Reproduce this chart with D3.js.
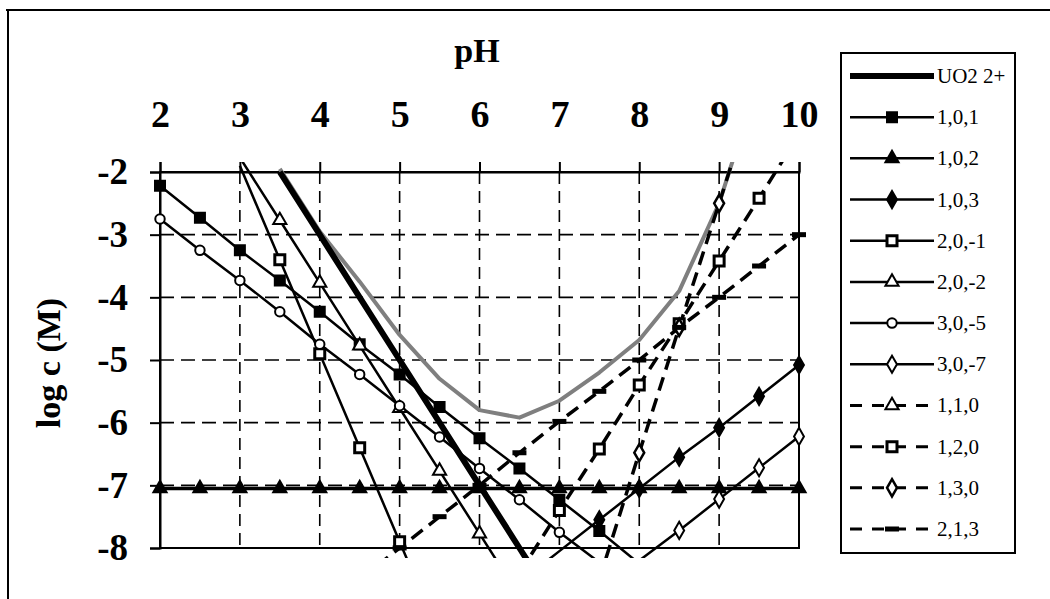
<!DOCTYPE html>
<html>
<head>
<meta charset="utf-8">
<script src="https://cdn.jsdelivr.net/npm/d3@7"></script>
<style>
  html, body { margin: 0; padding: 0; background: #fff; }
  svg text { font-family: "Liberation Serif", "Times New Roman", serif; }
</style>
</head>
<body>
<div id="chart"></div>
<script>
// pH grid (every 0.5)
const pH = [2, 2.5, 3, 3.5, 4, 4.5, 5, 5.5, 6, 6.5, 7, 7.5, 8, 8.5, 9, 9.5, 10];

// log c (M) per species, null = not plotted
const total = [null, null, null, -1.95, -2.95, -3.75, -4.6, -5.3, -5.8, -5.92, -5.65, -5.2, -4.68, -3.9, -2.5, -0.5, null];
const uo2 = [null, null, null, -2, -3, -4, -5, -6, -7, -8, -9, null, null, null, null, null, null];
const s101 = [-2.22, -2.73, -3.25, -3.73, -4.23, -4.75, -5.23, -5.75, -6.25, -6.73, -7.23, -7.73, -8.25, null, null, null, null];
const s102 = [-7.05, -7.05, -7.05, -7.05, -7.05, -7.05, -7.05, -7.05, -7.05, -7.05, -7.05, -7.05, -7.05, -7.05, -7.05, -7.05, -7.05];
const s103 = [null, null, null, null, null, null, null, null, null, -8.55, -8.05, -7.55, -7.05, -6.55, -6.08, -5.58, -5.08];
const s20m1 = [null, null, -1.9, -3.4, -4.9, -6.4, -7.9, -9.4, null, null, null, null, null, null, null, null, null];
const s20m2 = [null, null, -1.77, -2.77, -3.77, -4.77, -5.77, -6.77, -7.77, -8.77, null, null, null, null, null, null, null];
const s30m5 = [-2.75, -3.25, -3.73, -4.23, -4.75, -5.23, -5.73, -6.23, -6.73, -7.23, -7.75, -8.23, null, null, null, null, null];
const s30m7 = [null, null, null, null, null, null, null, null, null, null, null, null, -8.2, -7.72, -7.22, -6.72, -6.22];
const s110 = [null, null, null, null, null, null, null, null, null, null, null, null, null, null, null, null, null];
const s120 = [null, null, null, null, null, null, null, null, null, -8.4, -7.4, -6.42, -5.4, -4.42, -3.42, -2.42, -1.4];
const s130 = [null, null, null, null, null, null, null, null, null, null, null, -8.5, -6.48, -4.48, -2.5, -0.5, null];
const s213 = [null, null, null, null, null, -8.5, -8.0, -7.5, -7.0, -6.48, -5.98, -5.5, -5.0, -4.48, -4.0, -3.5, -3.0];

const xTicks = [2, 3, 4, 5, 6, 7, 8, 9, 10];
const yTicks = [-2, -3, -4, -5, -6, -7, -8];

const W = 1050, H = 599;
const margin = { top: 172, left: 160, right: 251, bottom: 51 };
const width = W - margin.left - margin.right;   // 639
const height = H - margin.top - margin.bottom;  // 376
const serif = "Liberation Serif";

const series = [
    { name: "UO2 2+", values: uo2, dash: null, width: 6, marker: null },
    { name: "1,0,1", values: s101, dash: null, width: 2.5, marker: "square", fill: "#000" },
    { name: "1,0,2", values: s102, dash: null, width: 3.5, marker: "triangle", fill: "#000" },
    { name: "1,0,3", values: s103, dash: null, width: 2.5, marker: "diamond", fill: "#000" },
    { name: "2,0,-1", values: s20m1, dash: null, width: 2.5, marker: "square", fill: "#fff", mstroke: 3 },
    { name: "2,0,-2", values: s20m2, dash: null, width: 2.5, marker: "triangle", fill: "#fff" },
    { name: "3,0,-5", values: s30m5, dash: null, width: 2.5, marker: "circle", fill: "#fff" },
    { name: "3,0,-7", values: s30m7, dash: null, width: 2.5, marker: "diamond", fill: "#fff" },
    { name: "1,1,0", values: s110, dash: "14,8", width: 3.5, marker: "triangle", fill: "#fff" },
    { name: "1,2,0", values: s120, dash: "14,8", width: 3.5, marker: "square", fill: "#fff", mstroke: 3 },
    { name: "1,3,0", values: s130, dash: "14,8", width: 3.5, marker: "diamond", fill: "#fff", mstroke: 2.5 },
    { name: "2,1,3", values: s213, dash: "14,8", width: 3.5, marker: "dash", fill: "#000" }
];

const symbolTypes = {
    square: [d3.symbolSquare, 100],
    triangle: [d3.symbolTriangle, 75],
    diamond: [d3.symbolDiamond, 85],
    circle: [d3.symbolCircle, 70]
};

const x = d3.scaleLinear().domain([2, 10]).range([0, width]);
const y = d3.scaleLinear().domain([-2, -8]).range([0, height]);

const root = d3.select("#chart")
    .append("svg")
    .attr("width", W)
    .attr("height", H);

root.append("rect").attr("width", W).attr("height", H).attr("fill", "#fff");

// outer frame (top + left)
root.append("line").attr("x1", 6).attr("x2", W).attr("y1", 10).attr("y2", 10)
    .attr("stroke", "#000").attr("stroke-width", 2);
root.append("line").attr("x1", 8).attr("x2", 8).attr("y1", 10).attr("y2", H)
    .attr("stroke", "#000").attr("stroke-width", 2);

const svg = root.append("g")
    .attr("transform", `translate(${margin.left},${margin.top})`);

// clip (lines run a bit past the plot area, like the scan)
svg.append("clipPath").attr("id", "clip")
    .append("rect")
    .attr("x", -10).attr("y", -10)
    .attr("width", width + 20).attr("height", height + 20);

// dashed grid
svg.append("g")
    .selectAll("line")
    .data(xTicks.slice(1, -1))
    .join("line")
    .attr("x1", d => x(d)).attr("x2", d => x(d))
    .attr("y1", 0).attr("y2", height)
    .attr("stroke", "#000").attr("stroke-width", 1.6)
    .attr("stroke-dasharray", "12,7");

svg.append("g")
    .selectAll("line")
    .data(yTicks.slice(1, -1))
    .join("line")
    .attr("x1", 0).attr("x2", width)
    .attr("y1", d => y(d)).attr("y2", d => y(d))
    .attr("stroke", "#000").attr("stroke-width", 1.6)
    .attr("stroke-dasharray", "14,7");

// plot border
svg.append("rect")
    .attr("width", width).attr("height", height)
    .attr("fill", "none").attr("stroke", "#000").attr("stroke-width", 2);

// axes: pH on top, log c on left
const xAxis = svg.append("g")
    .call(d3.axisTop(x).tickValues(xTicks).tickSize(10).tickPadding(35).tickFormat(d3.format("d")));
xAxis.selectAll("text")
    .attr("fill", "#000")
    .style("font-family", serif)
    .style("font-size", "38px").style("font-weight", "bold");
xAxis.selectAll("line, path").attr("stroke", "#000").attr("stroke-width", 2);

const yAxis = svg.append("g")
    .call(d3.axisLeft(y).tickValues(yTicks).tickSize(10).tickPadding(22).tickFormat(d => "-" + Math.abs(d)));
yAxis.selectAll("text")
    .attr("fill", "#000")
    .style("font-family", serif)
    .style("font-size", "37px").style("font-weight", "bold");
yAxis.selectAll("line, path").attr("stroke", "#000").attr("stroke-width", 2);

// titles
root.append("text")
    .attr("x", 477).attr("y", 62)
    .attr("text-anchor", "middle")
    .style("font-family", serif)
    .style("font-size", "34px").style("font-weight", "bold")
    .text("pH");

root.append("text")
    .attr("transform", `translate(60,363) rotate(-90)`)
    .attr("text-anchor", "middle")
    .style("font-family", serif)
    .style("font-size", "34px").style("font-weight", "bold")
    .text("log c (M)");

const plot = svg.append("g").attr("clip-path", "url(#clip)");

const line = d3.line()
    .defined(d => d.v !== null)
    .x(d => x(d.p))
    .y(d => y(d.v));

function pts(values) {
    return pH.map((p, i) => ({ p: p, v: values[i] }));
}

// grey total curve
plot.append("path")
    .datum(pts(total))
    .attr("fill", "none")
    .attr("stroke", "#7f7f7f")
    .attr("stroke-width", 4)
    .attr("stroke-linejoin", "round")
    .attr("d", line);

function drawMarker(g, s) {
    if (s.marker === "dash") {
        g.append("rect").attr("x", -7).attr("y", -2.5).attr("width", 14).attr("height", 5).attr("fill", "#000");
    } else {
        const t = symbolTypes[s.marker];
        g.append("path")
            .attr("d", d3.symbol().type(t[0]).size(t[1])())
            .attr("fill", s.fill)
            .attr("stroke", "#000")
            .attr("stroke-width", s.mstroke || 2);
    }
}

series.forEach(s => {
    plot.append("path")
        .datum(pts(s.values))
        .attr("fill", "none")
        .attr("stroke", "#000")
        .attr("stroke-width", s.width)
        .attr("stroke-dasharray", s.dash)
        .attr("d", line);
});

series.forEach(s => {
    if (!s.marker) return;
    const inRange = pts(s.values).filter(d => d.v !== null && d.v <= -2 && d.v >= -8);
    svg.append("g")
        .selectAll("g")
        .data(inRange)
        .join("g")
        .attr("transform", d => `translate(${x(d.p)},${y(d.v)})`)
        .each(function () { drawMarker(d3.select(this), s); });
});

// legend
const legend = root.append("g");
legend.append("rect")
    .attr("x", 841).attr("y", 53)
    .attr("width", 174).attr("height", 500)
    .attr("fill", "#fff").attr("stroke", "#000").attr("stroke-width", 2);

const ly = d3.scalePoint().domain(series.map(s => s.name)).range([76, 529]);

series.forEach(s => {
    const g = legend.append("g").attr("transform", `translate(0,${ly(s.name)})`);
    g.append("line")
        .attr("x1", 850).attr("x2", 934)
        .attr("stroke", "#000")
        .attr("stroke-width", s.name === "UO2 2+" ? 6 : (s.dash ? 3 : 2.5))
        .attr("stroke-dasharray", s.dash ? "12,10" : null);
    if (s.marker) {
        const m = g.append("g").attr("transform", "translate(892,0)");
        drawMarker(m, s);
    }
    g.append("text")
        .attr("x", 937).attr("y", 7)
        .style("font-family", serif)
        .style("font-size", "21px")
        .text(s.name);
});
</script>
</body>
</html>
